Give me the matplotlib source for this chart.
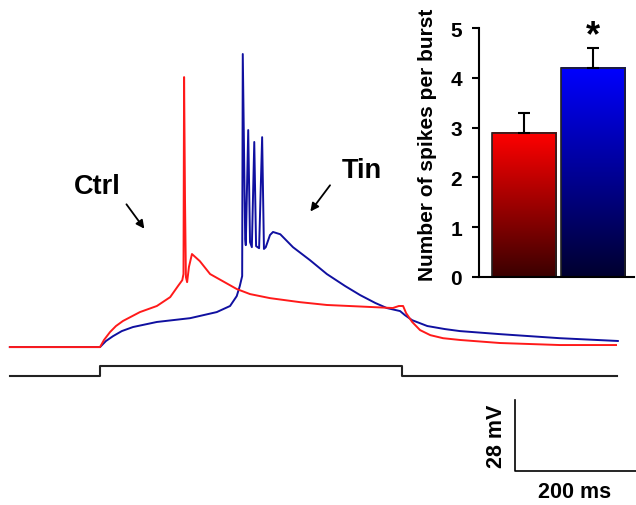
import numpy as np
import matplotlib
matplotlib.use('Agg')
import matplotlib.pyplot as plt
from matplotlib.colors import LinearSegmentedColormap

plt.rcParams.update({
    'font.family': ['Liberation Sans', 'DejaVu Sans'],
    'font.weight': 'bold',
})

# traces (time in ms from step onset, membrane potential in mV)
ctrl_t = [-149, 0, 6.6, 16.5, 26.4, 38, 66, 94, 116, 129, 136, 138, 139, 140.5, 142, 144, 147,
          152, 165, 182, 226, 248, 281, 331, 375, 430, 484, 494, 501, 506, 516, 529, 546, 567,
          595, 661, 760, 853]
ctrl_v = [-70, -70, -67.2, -64.1, -61.7, -59.7, -56.2, -53.8, -50.3, -45.9, -43.6, -41.2, 36.5,
          -11.6, -42.4, -44.4, -38.4, -33.3, -36.1, -41.2, -47.1, -49.1, -50.7, -52.3, -53.4,
          -54.0, -54.6, -53.8, -53.8, -56.6, -60.1, -63.3, -65.3, -66.5, -67.2, -68.4, -69.2,
          -69.2]

tin_t = [-149, 0, 9.9, 21.5, 36, 54.5, 94, 149, 193, 215, 226, 231, 235, 236, 240, 241, 245,
         248, 251, 255, 258, 263, 268, 271, 274, 281, 286, 298, 319, 347, 375, 405, 430, 455,
         474, 496, 504, 516, 541, 570, 595, 661, 760, 856]
tin_v = [-70, -70, -67.6, -65.7, -63.7, -62.1, -60.1, -58.6, -56.2, -53.8, -49.9, -46.0, -42.0,
         45.6, -27.4, -29.8, 15.6, -28.6, -30.6, 10.9, -30.2, -31.0, 12.8, -31.3, -30.6, -25.8,
         -24.6, -25.5, -30.6, -35.7, -41.2, -45.9, -49.5, -52.6, -54.6, -55.8, -57.4, -59.4,
         -61.7, -62.9, -63.7, -64.9, -66.5, -67.6]

# current step protocol (0 = off, 1 = on)
stim_t = [-149, 0, 0, 500, 500, 855]
stim_level = [0, 0, 1, 1, 0, 0]

# inset bar chart
groups = ['Ctrl', 'Tin']
spikes_mean = [2.9, 4.2]
spikes_sem = [0.4, 0.4]

fig = plt.figure(figsize=(6.36, 5.06), dpi=100)

ax = fig.add_axes([0, 0, 1, 1])
ax.set_xlim(-165.3, 886)
ax.set_ylim(-132.3, 67.3)
ax.axis('off')

ax.plot(ctrl_t, ctrl_v, color='#ff1a1a', lw=1.4, zorder=3)
ax.plot(tin_t, tin_v, color='#1010a0', lw=1.4, zorder=2)

stim_offset, stim_scale = -81.4, 3.8
ax.plot(stim_t, [stim_offset + s * stim_scale for s in stim_level], color='#222222', lw=1.5)

# scale bars: 200 ms, 28 mV
ax.plot([686, 686, 886], [-90.9, -118.9, -118.9], color='black', lw=1.2, clip_on=False)
ax.text(656, -104.9, '28 mV', rotation=90, ha='center', va='center', fontsize=15.5, fontweight='bold')
ax.text(784, -127.0, '200 ms', ha='center', va='center', fontsize=15.5, fontweight='bold')

ax.text(-5, -6.5, 'Ctrl', ha='center', va='center', fontsize=19.5, fontweight='bold')
ax.annotate('', xy=(76, -24.2), xytext=(41, -12.8),
            arrowprops=dict(arrowstyle='-|>', color='black', lw=1.3, mutation_scale=12))
ax.text(433, -0.2, 'Tin', ha='center', va='center', fontsize=19.5, fontweight='bold')
ax.annotate('', xy=(345, -17.4), xytext=(383, -5.3),
            arrowprops=dict(arrowstyle='-|>', color='black', lw=1.3, mutation_scale=12))

# inset
axi = fig.add_axes([0.753, 0.4506, 0.244, 0.492])
xpos = np.arange(len(groups))
bw = 0.93
grad = np.linspace(0, 1, 256).reshape(-1, 1)
cmaps = [LinearSegmentedColormap.from_list('r', ['#3a0000', '#ff0000']),
         LinearSegmentedColormap.from_list('b', ['#00002e', '#0000ff'])]
for x, m, cm in zip(xpos, spikes_mean, cmaps):
    axi.imshow(grad, cmap=cm, origin='lower', aspect='auto',
               extent=(x - bw / 2, x + bw / 2, 0, m), zorder=1)
axi.bar(xpos, spikes_mean, width=bw, facecolor='none', edgecolor='#222222', lw=1.2, zorder=2)
axi.errorbar(xpos, spikes_mean, yerr=[[0, 0], spikes_sem], fmt='none', ecolor='black',
             elinewidth=1.5, capsize=4.5, capthick=1.5, zorder=3)
axi.text(xpos[1], spikes_mean[1] + spikes_sem[1] - 0.1, '*', ha='center', va='bottom',
         fontsize=26, fontweight='bold')

axi.set_xlim(-0.652, 1.594)
axi.set_ylim(0, 5)
axi.set_yticks(range(6))
axi.set_xticks([])
axi.set_ylabel('Number of spikes per burst', fontsize=15, fontweight='bold')
axi.yaxis.set_label_coords(-0.27, 0.534)
axi.tick_params(axis='y', length=5, width=1.5, labelsize=15, pad=7)
for lab in axi.get_yticklabels():
    lab.set_fontweight('bold')
axi.spines['top'].set_visible(False)
axi.spines['right'].set_visible(False)
axi.spines['left'].set_linewidth(1.5)
axi.spines['bottom'].set_linewidth(1.5)
axi.patch.set_alpha(0)

fig.savefig('out.png', dpi=100, facecolor='white')
